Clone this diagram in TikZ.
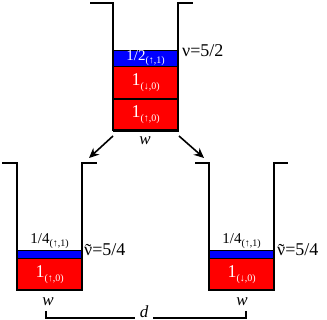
\documentclass[tikz,border=0pt]{standalone}
\usepackage{fontspec}
\setmainfont{Liberation Serif}
\usetikzlibrary{arrows.meta,positioning,calc}
\definecolor{layblue}{HTML}{0000FF}
\definecolor{layred}{HTML}{FF0000}

\newcommand{\nutil}{\ooalign{ν\cr\hidewidth\raisebox{-0.1ex}{˜}\hidewidth\cr}}
\newcommand{\lvl}[2]{#1\raisebox{-0.45ex}{\fontsize{10}{10}\selectfont(#2)}}

\begin{document}
\begin{tikzpicture}[
  x=1pt, y=-1pt,
  wall/.style = {draw=black, line width=1.6pt},
  half/.style = {draw=black, line width=0.3pt, fill=layblue, text=white,
                 inner sep=0pt, minimum width=65pt, font=\fontsize{15}{15}\selectfont},
  full/.style = {draw=black, line width=0.3pt, fill=layred, text=white,
                 inner sep=0pt, minimum width=65pt, font=\fontsize{18}{18}\selectfont},
  arr/.style  = {-{Stealth[length=10pt, width=9pt]}, line width=1.6pt},
  numlbl/.style = {font=\fontsize{18}{18}\selectfont, inner sep=0pt},
  wlbl/.style = {font=\fontsize{17}{17}\selectfont\itshape, inner sep=0pt},
]
\useasboundingbox (0,0) rectangle (327,320);

% --- top well ------------------------------------------------------------------
\node[half, minimum height=16pt, anchor=north west] (tb) at (113,50) {\lvl{1/2}{↑,1}};
\node[full, minimum height=32pt, below=0pt of tb] (tm) {\lvl{1}{↓,0}};
\node[full, minimum height=32pt, below=0pt of tm] (tl) {\lvl{1}{↑,0}};
\draw[wall] (90,3) -- (113,3) -- (113,130) -- (178,130) -- (178,3) -- (193,3);
\node[numlbl, anchor=west] (nutop) at (182,51) {ν=5/2};
\node[wlbl] (wtop) at (145,141) {w};

% --- lower left well -----------------------------------------------------------
\node[half, minimum height=8pt, anchor=north west] (lb) at (17,250) {};
\node[full, minimum height=32pt, below=0pt of lb] (ll) {\lvl{1}{↑,0}};
\draw[wall] (2,163) -- (17,163) -- (17,290) -- (82,290) -- (82,163) -- (97,163);
\node[half, fill=none, draw=none, text=black, above=1pt of lb] (lbl) {\lvl{1/4}{↑,1}};
\node[numlbl, anchor=west] (nuleft) at (84,250) {\nutil=5/4};
\node[wlbl] (wleft) at (48,302) {w};

% --- lower right well ----------------------------------------------------------
\node[half, minimum height=8pt, anchor=north west] (rb) at (209,250) {};
\node[full, minimum height=32pt, below=0pt of rb] (rl) {\lvl{1}{↓,0}};
\draw[wall] (195,163) -- (209,163) -- (209,290) -- (274,290) -- (274,163) -- (288,163);
\node[half, fill=none, draw=none, text=black, above=1pt of rb] (rbl) {\lvl{1/4}{↑,1}};
\node[numlbl, anchor=west] (nuright) at (277,250) {\nutil=5/4};
\node[wlbl] (wright) at (242,302) {w};

% --- splitting arrows ----------------------------------------------------------
\coordinate (a1) at (113,136);
\coordinate (a2) at (89,158);
\coordinate (b1) at (179,136);
\coordinate (b2) at (204,158);
\draw[arr] (a1) -- (a2);
\draw[arr] (b1) -- (b2);

% --- separation d --------------------------------------------------------------
\node[wlbl] (dist) at (144,312) {d};
\coordinate (dl) at (46,311);
\coordinate (dr) at (246,311);
\coordinate (dbase) at (0,318);
\draw[line width=1.2pt] (dl) |- ([xshift=-5pt]dist.west |- dbase);
\draw[line width=1.2pt] (dr) |- ([xshift=5pt]dist.east |- dbase);
\end{tikzpicture}
\end{document}
